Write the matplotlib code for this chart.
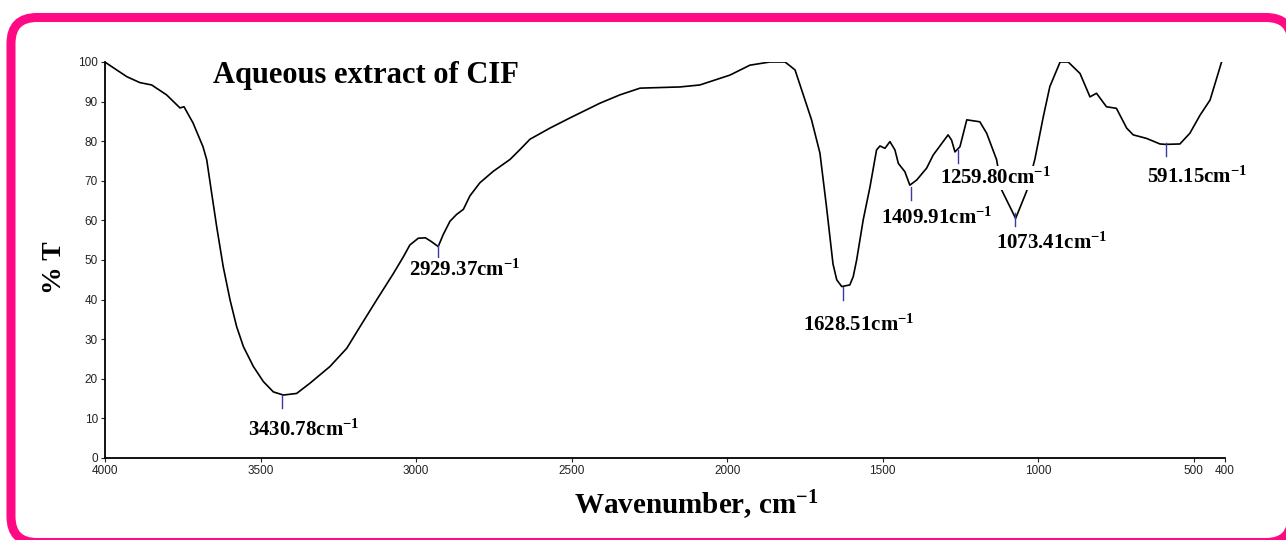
import matplotlib
matplotlib.use("Agg")
import matplotlib.pyplot as plt
import matplotlib.transforms as mtransforms
from matplotlib.patches import FancyBboxPatch

plt.rcParams['mathtext.fontset'] = 'custom'
plt.rcParams['mathtext.rm'] = 'Liberation Serif:bold'
plt.rcParams['mathtext.it'] = 'Liberation Serif:bold'
plt.rcParams['mathtext.bf'] = 'Liberation Serif:bold'

# FTIR spectrum (wavenumber, %T)
wavenumber = [4000, 3995, 3930, 3888, 3850, 3802, 3759, 3746, 3717, 3685,
              3673, 3657, 3641, 3620, 3598, 3577, 3555, 3523, 3491, 3459,
              3427, 3384, 3341, 3277, 3223, 3180, 3127, 3073, 3041, 3020,
              2993, 2970, 2950, 2929, 2913, 2891, 2870, 2848, 2827, 2795,
              2752, 2698, 2666, 2634, 2570, 2505, 2409, 2345, 2280, 2152,
              2088, 1991, 1927, 1863, 1814, 1782, 1750, 1729, 1702, 1681,
              1660, 1648, 1632, 1606, 1595, 1584, 1563, 1541, 1520, 1509,
              1493, 1477, 1461, 1450, 1429, 1413, 1391, 1359, 1338, 1306,
              1290, 1279, 1268, 1252, 1230, 1188, 1166, 1134, 1118, 1081,
              1073, 1038, 1011, 984, 963, 930, 904, 866, 834, 813,
              781, 749, 716, 695, 652, 609, 591, 545, 513, 480,
              448, 411]
transmittance = [100, 99.7, 96.3, 94.8, 94.2, 91.7, 88.4, 88.7, 84.6, 78.6,
                 75.3, 66.8, 58.4, 48.3, 39.9, 33.2, 28.1, 23.1, 19.3, 16.7,
                 15.9, 16.3, 18.9, 23.1, 27.7, 33.2, 39.9, 46.6, 50.8, 53.8,
                 55.5, 55.6, 54.6, 53.4, 56.4, 59.8, 61.5, 62.8, 66.2, 69.5,
                 72.4, 75.4, 77.9, 80.5, 83.3, 85.9, 89.6, 91.7, 93.4, 93.7,
                 94.2, 96.7, 99.2, 100, 100, 98, 90.4, 85.4, 77, 63.5,
                 49, 45, 43.3, 43.7, 45.8, 50, 60.1, 68.5, 77.8, 78.8,
                 78.2, 79.9, 77.8, 74.4, 72.3, 68.9, 70.2, 73.2, 76.5, 79.9,
                 81.6, 80.3, 77.3, 78.6, 85.4, 84.9, 82, 75.3, 67.7, 61.8,
                 60.5, 67.3, 75.5, 86.2, 93.8, 100, 100, 97.1, 91.2, 92.1,
                 88.7, 88.3, 83.3, 81.6, 80.7, 79.3, 79.2, 79.3, 82, 86.6,
                 90.4, 100]

# peak annotations
peak_names = ['3430.78', '2929.37', '1628.51', '1409.91', '1259.80', '1073.41', '591.15']
peak_pos = [3430.78, 2929.37, 1628.51, 1409.91, 1259.80, 1073.41, 591.15]
peak_top = [15.9, 53.8, 43.2, 68.4, 77.8, 61.9, 79.5]
label_x = [3360, 2843, 1576, 1326, 1139, 956, 490]
label_y = [7.1, 47.5, 33.6, 60.6, 70.7, 54.3, 71.0]

x_ticks = [4000, 3500, 3000, 2500, 2000, 1500, 1000, 500, 400]
y_ticks = list(range(0, 101, 10))

fig = plt.figure(figsize=(12.86, 5.40), dpi=100)
ax = fig.add_axes([105 / 1286, 1 - 458 / 540, 1120 / 1286, 396 / 540])

ax.plot(wavenumber, transmittance, color='black', lw=1.2, solid_joinstyle='round')

for name, x, top, lx, ly in zip(peak_names, peak_pos, peak_top, label_x, label_y):
    ax.plot([x, x], [top, top - 3.2], color='#3a3aa0', lw=1)
    ax.text(lx, ly, name + r'cm$^{-1}$', ha='center', va='center',
            family='Liberation Serif', weight='bold', fontsize=15,
            bbox=dict(facecolor='white', edgecolor='none', pad=1.0))

ax.set_xlim(4000, 400)
ax.set_ylim(0, 100)
ax.set_xticks(x_ticks)
ax.set_yticks(y_ticks)
ax.tick_params(labelsize=8.5, length=3, width=0.8, colors='#222222', pad=2)
for lab in ax.get_xticklabels() + ax.get_yticklabels():
    lab.set_family('Liberation Sans')
ax.spines['top'].set_visible(False)
ax.spines['right'].set_visible(False)
ax.spines['left'].set_linewidth(1.3)
ax.spines['bottom'].set_linewidth(1.3)

ax.text(0.0964, 0.967, 'Aqueous extract of CIF', transform=ax.transAxes,
        ha='left', va='center', family='Liberation Serif', weight='bold', fontsize=22)
fig.text(696 / 1286, 1 - 505 / 540, r'Wavenumber, cm$^{-1}$', ha='center', va='center',
         family='Liberation Serif', weight='bold', fontsize=21)
fig.text(55 / 1286, 1 - 268 / 540, '% T', rotation=90, ha='center', va='center',
         family='Liberation Serif', weight='bold', fontsize=20)

# pink rounded frame (pixel coordinates), runs off the right and bottom edges.
# an almost transparent face keeps Agg from clipping the outline to the canvas
frame = FancyBboxPatch((11, -2.5), 1281, 525, boxstyle='round,pad=0,rounding_size=26',
                       transform=mtransforms.IdentityTransform(),
                       facecolor=(1, 1, 1, 0.001), edgecolor='#ff0a84', lw=6.5,
                       clip_on=False)
fig.patches.append(frame)

fig.savefig('out.png', dpi=100)
